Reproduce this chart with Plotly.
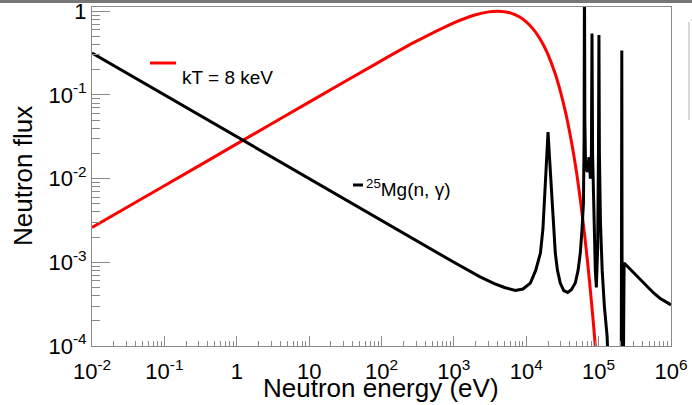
import plotly.graph_objects as go

# ---------------- data ----------------
maxw_energy = [0.01, 0.1, 1, 10, 100, 300, 1000, 2000, 3000, 4000, 5000, 6000,
               8000, 10000, 12500, 15000, 17500, 20000, 25000, 30000, 35000,
               40000, 45000, 50000, 55000, 60000, 65000, 70000, 75000, 80000,
               85000, 90000, 95000]
maxw_flux = [2.6e-3, 8.2e-3, 0.026, 0.082, 0.257, 0.435, 0.727, 0.908, 0.981,
             1.0, 0.987, 0.954, 0.858, 0.747, 0.611, 0.489, 0.387, 0.303,
             0.181, 0.106, 0.0614, 0.0351, 0.0199, 0.01125, 0.0062, 0.0034,
             1.9e-3, 1.05e-3, 5.8e-4, 3.2e-4, 1.8e-4, 1.0e-4, 5.6e-5]

mg_energy = [0.01, 0.1, 1, 10, 100, 1000, 2270, 3550, 5000, 7070, 9000, 11400,
             13500, 15700, 17000, 18400, 19300, 20000, 20800, 22000, 23500,
             25200, 27000, 29500, 33000, 37300, 42000, 47600, 52000, 55800,
             59000, 61700, 63000, 63700, 64500, 66000, 70000, 73600, 77000,
             79500, 81000, 82500, 86000, 90000, 93000, 97000, 99500, 101000,
             102500, 106000, 112000, 120000, 131000, 140000, 200000, 204000,
             209000, 213000, 225000, 300000, 466000, 575000, 710000, 1000000]
mg_flux = [0.317, 0.100, 0.0317, 0.0100, 3.17e-3, 1.0e-3, 6.75e-4, 5.6e-4,
           5.0e-4, 4.6e-4, 4.8e-4, 5.65e-4, 8e-4, 1.29e-3, 2.5e-3, 8.1e-3,
           0.02, 0.036, 0.02, 8.1e-3, 3e-3, 1.29e-3, 8e-4, 5.65e-4, 4.6e-4,
           4.37e-4, 4.7e-4, 5.65e-4, 8e-4, 1.29e-3, 2.5e-3, 5.1e-3, 0.03, 3.0,
           0.05, 0.014, 0.012, 0.018, 0.01, 0.02, 0.54, 0.02, 3e-3, 8e-4, 5e-4,
           1.5e-3, 0.02, 0.52, 0.02, 3e-3, 8e-4, 3e-4, 1.3e-4, 3e-5, 3e-6, 1e-6,
           0.338, 1e-6, 9.8e-4, 7.6e-4, 5.1e-4, 4.3e-4, 3.7e-4, 3.1e-4]

x_tickvals = [1e-2, 1e-1, 1, 10, 1e2, 1e3, 1e4, 1e5, 1e6]
x_ticktext = ["10<sup>-2</sup>", "10<sup>-1</sup>", "1", "10", "10<sup>2</sup>",
              "10<sup>3</sup>", "10<sup>4</sup>", "10<sup>5</sup>", "10<sup>6</sup>"]
y_tickvals = [1e-4, 1e-3, 1e-2, 1e-1, 1]
y_ticktext = ["10<sup>-4</sup>", "10<sup>-3</sup>", "10<sup>-2</sup>", "10<sup>-1</sup>", "1"]

maxw_label = "kT = 8 keV"
mg_label = "<sup>25</sup>Mg(n, γ)"
x_title = "Neutron energy (eV)"
y_title = "Neutron flux"

# ---------------- figure ----------------
FONT = "Liberation Sans, Arial, Helvetica, sans-serif"
AXC = "#8a8a8a"

fig = go.Figure()
fig.add_trace(go.Scatter(x=maxw_energy, y=maxw_flux, mode="lines",
                         line=dict(color="#ff0000", width=3, shape="spline", smoothing=0.6),
                         showlegend=False, hoverinfo="skip"))
fig.add_trace(go.Scatter(x=mg_energy, y=mg_flux, mode="lines",
                         line=dict(color="#000000", width=3),
                         showlegend=False, hoverinfo="skip"))


def minor_vals(lo, hi):
    vals = []
    for e in range(lo, hi):
        for k in range(2, 10):
            vals.append(k * 10.0 ** e)
    return vals


fig.update_xaxes(type="log", range=[-2, 6], showgrid=False, zeroline=False,
                 automargin=False, ticklabeloverflow="allow", ticklabelstandoff=6,
                 showline=True, linecolor=AXC, linewidth=1, mirror=True,
                 tickmode="array", tickvals=x_tickvals, ticktext=x_ticktext,
                 ticks="inside", ticklen=10, tickcolor=AXC, tickwidth=1,
                 tickfont=dict(family=FONT, size=22, color="#000"),
                 minor=dict(tickmode="array", tickvals=minor_vals(-2, 6),
                            ticks="inside", ticklen=5, tickcolor=AXC, showgrid=False))
fig.update_yaxes(type="log", range=[-4, 0.05], showgrid=False, zeroline=False,
                 automargin=False, ticklabeloverflow="allow",
                 showline=True, linecolor=AXC, linewidth=1, mirror=True,
                 tickmode="array", tickvals=y_tickvals, ticktext=y_ticktext,
                 ticks="inside", ticklen=18, tickcolor=AXC, tickwidth=1,
                 tickfont=dict(family=FONT, size=22, color="#000"),
                 minor=dict(tickmode="array", tickvals=minor_vals(-4, 0),
                            ticks="inside", ticklen=8, tickcolor=AXC, showgrid=False))

L, R, T, B = 92, 671, 7, 346
W, H = R - L, B - T


def px(x):
    return (x - L) / W


def py(y):
    return (B - y) / H


shapes = [
    dict(type="line", xref="paper", yref="paper", x0=px(150), x1=px(176),
         y0=py(63), y1=py(63), line=dict(color="#ff0000", width=3)),
    dict(type="line", xref="paper", yref="paper", x0=px(353), x1=px(363),
         y0=py(185), y1=py(185), line=dict(color="#000000", width=3)),
    dict(type="rect", xref="paper", yref="paper", x0=px(-5), x1=px(700),
         y0=py(3), y1=py(-5), fillcolor="#777777", line=dict(width=0), layer="above"),
    dict(type="line", xref="paper", yref="paper", x0=px(689), x1=px(689),
         y0=py(22), y1=py(120), line=dict(color="#d8d8d8", width=2)),
    dict(type="line", xref="paper", yref="paper", x0=px(691), x1=px(700),
         y0=py(20), y1=py(20), line=dict(color="#d8d8d8", width=2)),
]

annotations = [
    dict(text=maxw_label, xref="paper", yref="paper", x=px(180), y=py(77),
         xanchor="left", yanchor="middle", showarrow=False,
         font=dict(family=FONT, size=19, color="#000")),
    dict(text=mg_label, xref="paper", yref="paper", x=px(364), y=py(188),
         xanchor="left", yanchor="middle", showarrow=False,
         font=dict(family=FONT, size=19, color="#000")),
    dict(text=x_title, xref="paper", yref="paper", x=px(381), y=py(388),
         xanchor="center", yanchor="middle", showarrow=False,
         font=dict(family=FONT, size=26, color="#000")),
    dict(text=y_title, xref="paper", yref="paper", x=px(23), y=py(176),
         xanchor="center", yanchor="middle", showarrow=False, textangle=-90,
         font=dict(family=FONT, size=26, color="#000")),
]

fig.update_layout(width=692, height=405,
                  margin=dict(l=L, r=692 - R, t=T, b=405 - B, autoexpand=False),
                  paper_bgcolor="white", plot_bgcolor="white",
                  shapes=shapes, annotations=annotations,
                  showlegend=False, hovermode=False)

fig.write_html("out.html", config={"displayModeBar": False, "staticPlot": True},
               post_script="document.body.style.margin='0';document.body.style.overflow='hidden';")
